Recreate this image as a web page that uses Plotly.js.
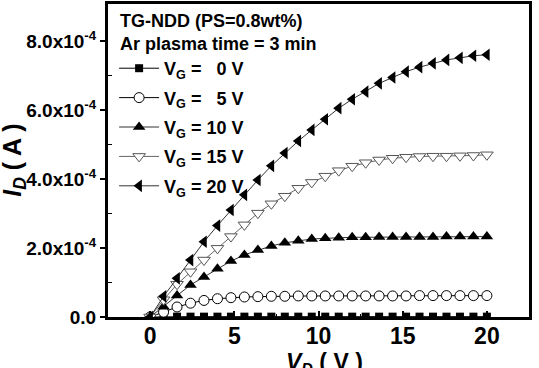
<!DOCTYPE html>
<html>
<head>
<meta charset="utf-8">
<script src="https://cdn.plot.ly/plotly-3.0.1.min.js"></script>
<style>
  html, body { margin: 0; padding: 0; background: #fff; }
  #chart { width: 539px; height: 368px; }
</style>
</head>
<body>
<div id="chart"></div>
<script>
// Drain voltage sweep (V)
const vd = [0, 0.8, 1.6, 2.4, 3.2, 4.0, 4.8, 5.6, 6.4, 7.2, 8.0, 8.8, 9.6, 10.4,
            11.2, 12.0, 12.8, 13.6, 14.4, 15.2, 16.0, 16.8, 17.6, 18.4, 19.2, 20.0];

// Drain current, in units of 1e-4 A, for each gate voltage
const idVg0  = [0, 0.01, 0.01, 0.01, 0.01, 0.01, 0.01, 0.01, 0.01, 0.01, 0.01, 0.01, 0.01,
                0.01, 0.01, 0.01, 0.01, 0.01, 0.01, 0.01, 0.01, 0.01, 0.01, 0.01, 0.01, 0.01];
const idVg5  = [0, 0.14, 0.29, 0.40, 0.48, 0.53, 0.56, 0.58, 0.59, 0.60, 0.60, 0.61, 0.61,
                0.61, 0.61, 0.61, 0.61, 0.61, 0.61, 0.61, 0.62, 0.62, 0.62, 0.62, 0.62, 0.62];
const idVg10 = [0, 0.30, 0.62, 0.93, 1.16, 1.40, 1.62, 1.80, 1.94, 2.06, 2.15, 2.21, 2.26,
                2.28, 2.30, 2.31, 2.31, 2.32, 2.32, 2.32, 2.32, 2.32, 2.33, 2.33, 2.33, 2.33];
const idVg15 = [0, 0.50, 0.95, 1.31, 1.65, 1.99, 2.33, 2.67, 3.01, 3.28, 3.50, 3.73, 3.90,
                4.08, 4.24, 4.37, 4.47, 4.55, 4.60, 4.63, 4.65, 4.66, 4.66, 4.67, 4.68, 4.70];
const idVg20 = [0, 0.60, 1.12, 1.65, 2.18, 2.65, 3.10, 3.54, 3.97, 4.38, 4.75, 5.10, 5.42,
                5.73, 6.05, 6.31, 6.53, 6.77, 6.94, 7.11, 7.24, 7.35, 7.45, 7.51, 7.57, 7.60];

const seriesNames = ['V<sub>G</sub> = \u00A0 0 V', 'V<sub>G</sub> = \u00A0 5 V',
                     'V<sub>G</sub> = 10 V', 'V<sub>G</sub> = 15 V', 'V<sub>G</sub> = 20 V'];

// Axis ticks
const xTickVals = [0, 5, 10, 15, 20];
const xTickText = ['0', '5', '10', '15', '20'];
const xMinorVals = [-2.5, 2.5, 7.5, 12.5, 17.5, 22.5];
const yTickVals = [0, 2, 4, 6, 8];
const yTickText = ['0.0', '2.0x10<sup>-4</sup>', '4.0x10<sup>-4</sup>',
                   '6.0x10<sup>-4</sup>', '8.0x10<sup>-4</sup>'];
const yMinorVals = [1, 3, 5, 7];

const FONT = 'Liberation Sans, Arial, Helvetica, sans-serif';

const styles = [
  { symbol: 'square',        size: 8,  color: '#000', line: { color: '#000', width: 0 } },
  { symbol: 'circle',        size: 10, color: '#fff', line: { color: '#000', width: 1 } },
  { symbol: 'triangle-up',   size: 11, color: '#000', line: { color: '#000', width: 0 } },
  { symbol: 'triangle-down', size: 11, color: '#fff', line: { color: '#555', width: 1 } },
  { symbol: 'triangle-left', size: 11, color: '#000', line: { color: '#000', width: 0 } }
];
const lineColors = ['#000', '#000', '#333', '#666', '#333'];
const allSeries = [idVg0, idVg5, idVg10, idVg15, idVg20];

const traces = allSeries.map((ys, i) => ({
  type: 'scatter',
  mode: 'lines+markers',
  x: vd,
  y: ys,
  name: seriesNames[i],
  legendgroup: 'g' + i,
  line: { color: lineColors[i], width: 1 },
  marker: styles[i]
}));

const layout = {
  width: 539,
  height: 368,
  margin: { l: 108, r: 10, t: 4, b: 51 },
  paper_bgcolor: '#fff',
  plot_bgcolor: '#fff',
  font: { family: FONT, color: '#000', weight: 'bold' },
  showlegend: true,
  legend: {
    x: 0.0145, y: 0.853, xanchor: 'left', yanchor: 'top',
    bgcolor: 'rgba(0,0,0,0)', borderwidth: 0,
    font: { family: FONT, size: 18, color: '#000', weight: 'bold' },
    itemwidth: 40,
    traceorder: 'grouped',
    tracegroupgap: 3
  },
  xaxis: {
    range: [-2.5, 22.5],
    tickmode: 'array', tickvals: xTickVals, ticktext: xTickText,
    ticks: 'inside', ticklen: 6, tickwidth: 2, tickcolor: '#000',
    ticklabelstandoff: -4,
    minor: { tickmode: 'array', tickvals: xMinorVals, ticks: 'inside', ticklen: 3, tickwidth: 1.5, tickcolor: '#000' },
    tickfont: { family: FONT, size: 23, color: '#000', weight: 'bold' },
    showline: true, linewidth: 3, linecolor: '#000', mirror: true,
    showgrid: false, zeroline: false
  },
  yaxis: {
    range: [0, 9.07],
    tickmode: 'array', tickvals: yTickVals, ticktext: yTickText,
    ticks: 'outside', ticklen: 5, tickwidth: 2, tickcolor: '#000',
    minor: { tickmode: 'array', tickvals: yMinorVals, ticks: 'inside', ticklen: 4, tickwidth: 1.5, tickcolor: '#000' },
    tickfont: { family: FONT, size: 19, color: '#000', weight: 'bold' },
    showline: true, linewidth: 3, linecolor: '#000', mirror: true,
    showgrid: false, zeroline: false
  },
  annotations: [
    {
      text: 'TG-NDD (PS=0.8wt%)', xref: 'paper', yref: 'paper',
      x: 0.024, y: 0.947, xanchor: 'left', yanchor: 'middle', showarrow: false,
      font: { family: FONT, size: 18, color: '#000', weight: 'bold' }
    },
    {
      text: 'Ar plasma time = 3 min', xref: 'paper', yref: 'paper',
      x: 0.024, y: 0.872, xanchor: 'left', yanchor: 'middle', showarrow: false,
      font: { family: FONT, size: 18, color: '#000', weight: 'bold' }
    },
    {
      text: '<i>V</i><sub><i>D</i></sub> ( V )', xref: 'paper', yref: 'paper',
      x: 0.514, y: -0.095, xanchor: 'center', yanchor: 'top', showarrow: false,
      font: { family: FONT, size: 23, color: '#000', weight: 'bold' }
    },
    {
      text: '<i>I</i><sub><i>D</i></sub> ( A )', xref: 'paper', yref: 'paper',
      x: -0.225, y: 0.5, xanchor: 'center', yanchor: 'middle', showarrow: false,
      textangle: -90,
      font: { family: FONT, size: 25, color: '#000', weight: 'bold' }
    }
  ]
};

Plotly.newPlot('chart', traces, layout, { staticPlot: true, displayModeBar: false });
</script>
</body>
</html>
